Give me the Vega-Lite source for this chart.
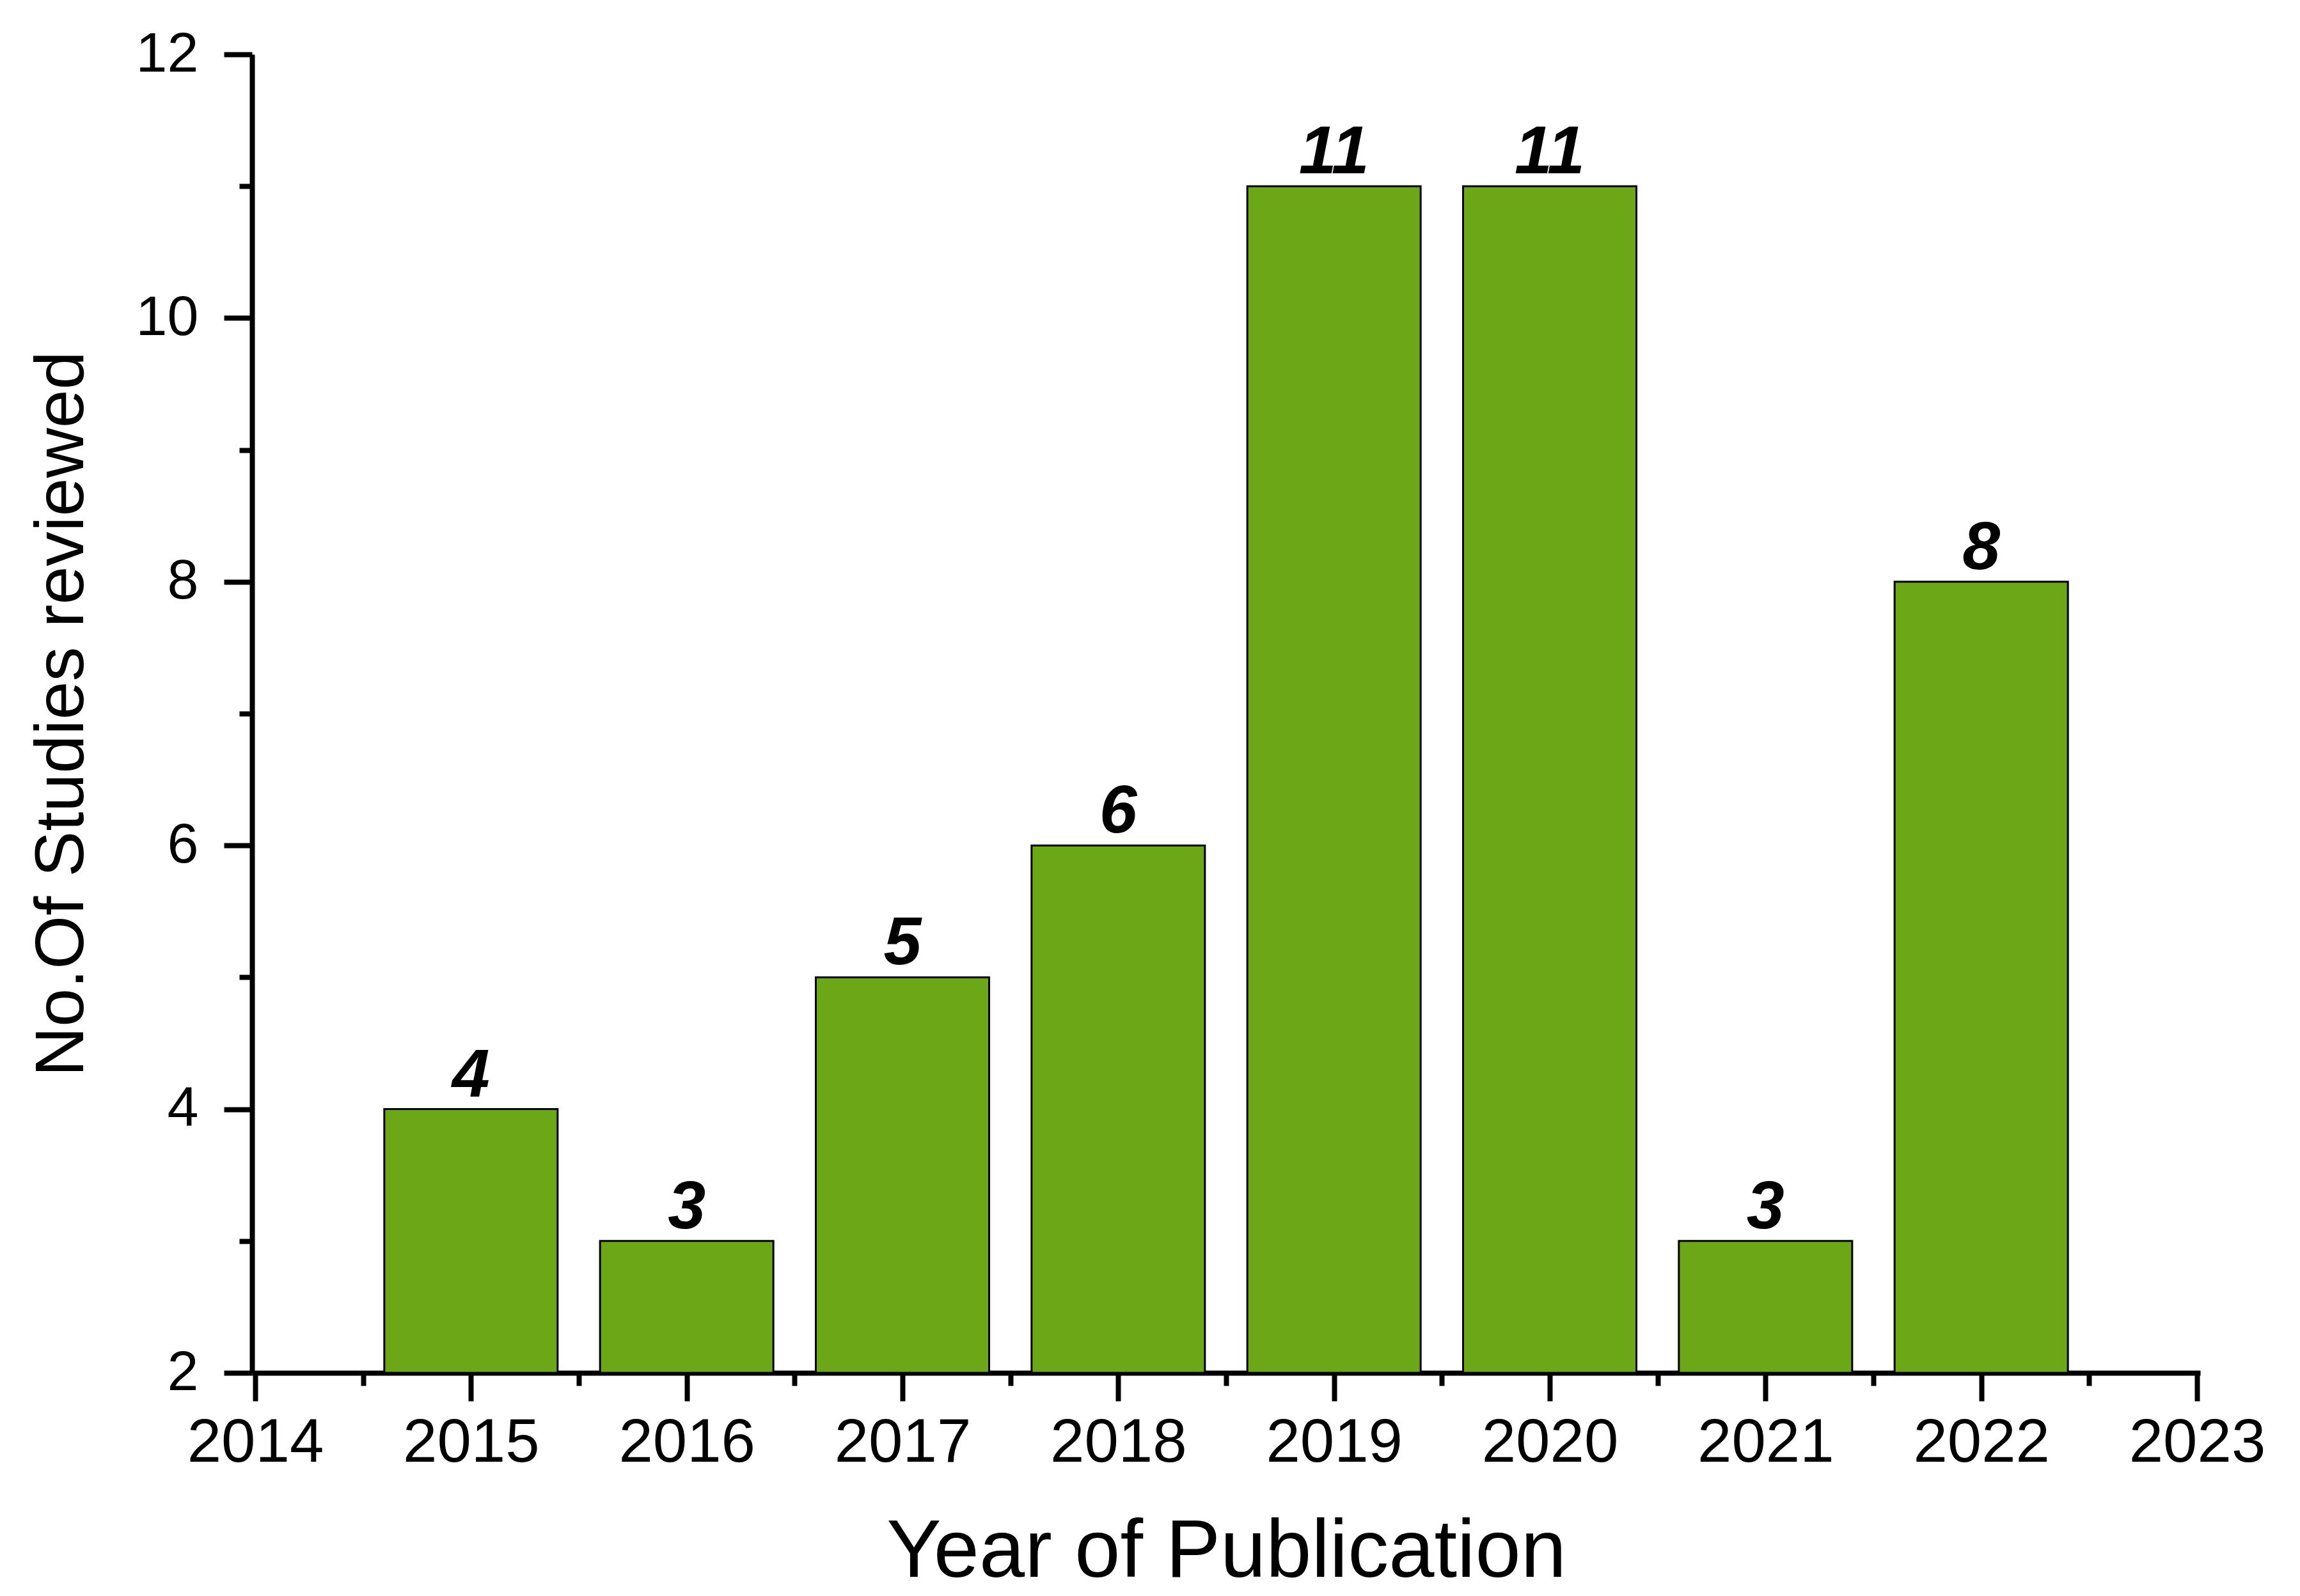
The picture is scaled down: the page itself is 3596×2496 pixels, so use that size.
{
  "$schema": "https://vega.github.io/schema/vega-lite/v6.json",
  "width": 3046,
  "height": 2062,
  "autosize": {"type": "none"},
  "padding": {"left": 394, "top": 85, "right": 156, "bottom": 349},
  "background": "white",
  "config": {
    "view": {"stroke": null},
    "font": "Liberation Sans",
    "axis": {
      "grid": false,
      "domainColor": "black",
      "domainWidth": 8,
      "tickColor": "black",
      "tickWidth": 8,
      "labelColor": "black",
      "titleColor": "black",
      "labelFont": "Liberation Sans",
      "titleFont": "Liberation Sans",
      "titleFontWeight": "normal",
      "labelLimit": 0
    }
  },
  "data": {
    "values": [
      {"year": 2015, "count": 4},
      {"year": 2016, "count": 3},
      {"year": 2017, "count": 5},
      {"year": 2018, "count": 6},
      {"year": 2019, "count": 11},
      {"year": 2020, "count": 11},
      {"year": 2021, "count": 3},
      {"year": 2022, "count": 8}
    ]
  },
  "encoding": {
    "x": {
      "field": "year",
      "type": "quantitative",
      "scale": {"domain": [2014, 2023], "nice": false, "zero": false},
      "axis": {
        "title": "Year of Publication",
        "titleFontSize": 128,
        "titlePadding": 60,
        "values": [2014, 2014.5, 2015, 2015.5, 2016, 2016.5, 2017, 2017.5, 2018, 2018.5, 2019, 2019.5, 2020, 2020.5, 2021, 2021.5, 2022, 2022.5, 2023],
        "labelExpr": "datum.value % 1 === 0 ? format(datum.value, 'd') : ''",
        "labelFontSize": 96,
        "labelPadding": 18,
        "labelLimit": 0,
        "tickSize": {"condition": {"test": "datum.value % 1 === 0", "value": 44}, "value": 20},
        "labelFlush": false,
        "labelOverlap": false
      }
    },
    "y": {
      "field": "count",
      "type": "quantitative",
      "scale": {"domain": [2, 12], "nice": false, "zero": false},
      "axis": {
        "title": "No.Of Studies reviewed",
        "titleFontSize": 108,
        "titlePadding": 60,
        "values": [2, 3, 4, 5, 6, 7, 8, 9, 10, 11, 12],
        "labelExpr": "datum.value % 2 === 0 ? format(datum.value, 'd') : ''",
        "labelFontSize": 88,
        "labelPadding": 40,
        "labelLimit": 0,
        "tickSize": {"condition": {"test": "datum.value % 2 === 0", "value": 44}, "value": 20},
        "labelFlush": false,
        "labelOverlap": false
      }
    }
  },
  "layer": [
    {
      "mark": {"type": "bar", "size": 271, "color": "#6CA717", "stroke": "black", "strokeWidth": 3},
      "encoding": {"y2": {"datum": 2}}
    },
    {
      "mark": {"type": "text", "baseline": "alphabetic", "align": "center", "dy": -20, "fontSize": 106, "fontWeight": "bold", "fontStyle": "italic", "font": "Liberation Sans", "color": "black"},
      "encoding": {"text": {"field": "count", "type": "quantitative"}}
    }
  ]
}
